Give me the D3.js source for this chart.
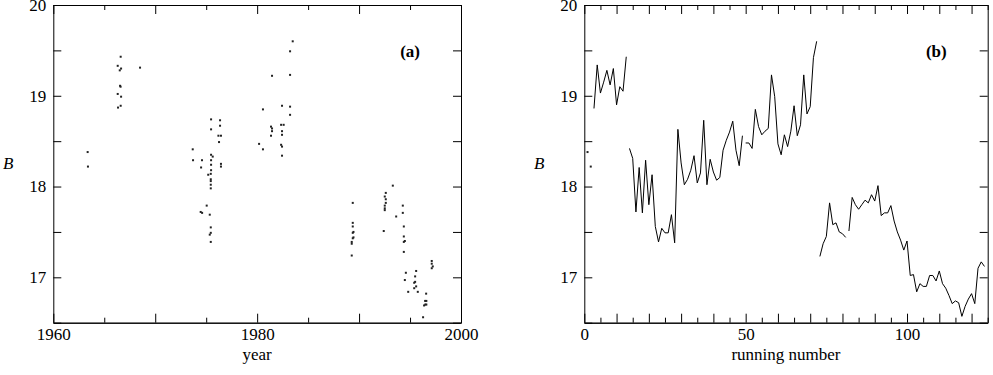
<!DOCTYPE html>
<html>
<head>
<meta charset="utf-8">
<script src="https://cdn.jsdelivr.net/npm/d3@7"></script>
<style>
  body { margin: 0; background: #fff; }
  svg text { font-family: "Liberation Serif", "DejaVu Serif", serif !important; fill: #000; }
</style>
</head>
<body>
<section></section>
<script>

// data: panel (a), B against year

const yearA = [
    1963.37, 1963.40,
    1966.61, 1966.32, 1966.65, 1966.52, 1968.51, 1966.55, 1966.60, 1966.32, 1966.65, 1966.61, 1966.35,
    1973.68, 1973.71, 1974.59, 1974.50, 1974.46, 1974.60, 1975.05, 1975.20, 1975.35, 1975.48, 1975.48,
    1975.48, 1975.64, 1975.48, 1975.48, 1975.48, 1975.45, 1975.45, 1975.45, 1975.45, 1975.45, 1975.45,
    1975.45, 1975.35, 1975.45, 1976.36, 1976.36, 1976.20, 1976.45, 1976.26, 1976.45, 1976.45,
    1980.19, 1980.57, 1980.57, 1981.46, 1981.36, 1981.46, 1981.46, 1981.36, 1982.35, 1982.60, 1982.44,
    1982.44, 1982.44, 1982.35, 1982.44, 1982.44, 1983.23, 1983.23, 1983.23, 1983.23, 1983.49,
    1989.38, 1989.38, 1989.38, 1989.45, 1989.38, 1989.45, 1989.38, 1989.28, 1989.28, 1989.28,
    1993.31, 1992.62, 1992.52, 1992.62, 1992.62, 1992.52, 1992.52, 1992.52, 1992.42, 1993.64,
    1994.29, 1994.29, 1994.39, 1994.39, 1994.49, 1994.39, 1994.39, 1994.59, 1994.49, 1994.82,
    1995.60, 1995.50, 1995.50, 1995.41, 1995.60, 1995.41, 1995.76,
    1996.58, 1996.48, 1996.60, 1996.38, 1996.50, 1996.60, 1996.28,
    1997.13, 1997.13, 1997.23, 1997.13
];

const bA = [
    18.38, 18.22,
    19.43, 19.33, 19.30, 19.28, 19.31, 19.11, 19.10, 19.02, 18.99, 18.89, 18.87,
    18.41, 18.29, 18.29, 18.21, 17.72, 17.71, 17.79, 18.13, 17.69, 18.74, 18.63,
    18.35, 18.33, 18.29, 18.24, 18.18, 18.14, 18.08, 18.06, 18.02, 17.98, 17.55,
    17.49, 17.47, 17.39, 18.73, 18.67, 18.56, 18.56, 18.49, 18.25, 18.22,
    18.47, 18.85, 18.41, 19.22, 18.66, 18.64, 18.61, 18.56, 18.68, 18.68, 18.61,
    18.57, 18.89, 18.46, 18.44, 18.34, 18.88, 18.79, 19.23, 19.49, 19.60,
    17.82, 17.60, 17.56, 17.50, 17.49, 17.44, 17.43, 17.39, 17.37, 17.24,
    18.01, 17.93, 17.89, 17.86, 17.82, 17.79, 17.76, 17.74, 17.51, 17.67,
    17.79, 17.71, 17.56, 17.45, 17.40, 17.39, 17.28, 17.05, 16.97, 16.84,
    17.07, 17.01, 16.95, 16.94, 16.90, 16.88, 16.84,
    16.82, 16.74, 16.74, 16.69, 16.70, 16.70, 16.56,
    17.18, 17.15, 17.12, 17.10
];

// data: panel (b), B against running number 1..124

const runB = [
    18.38, 18.22,
    18.86, 19.34, 19.03, 19.15, 19.28, 19.12, 19.30, 18.90, 19.10, 19.05, 19.43,
    18.42, 18.31, 17.72, 18.21, 17.71, 18.29, 17.80, 18.13, 17.56, 17.39, 17.54, 17.49,
    17.49, 17.69, 17.38, 18.63, 18.26, 18.02, 18.08, 18.18, 18.34, 18.04, 18.15, 18.73,
    18.02, 18.30, 18.16, 18.07, 18.10, 18.40, 18.51, 18.60, 18.72, 18.40, 18.23, 18.56,
    18.48, 18.48, 18.42, 18.85, 18.66, 18.57, 18.61, 18.64, 19.23, 18.99, 18.47, 18.35,
    18.57, 18.44, 18.61, 18.89, 18.56, 18.68, 19.23, 18.80, 18.88, 19.42, 19.60,
    17.23, 17.37, 17.45, 17.82, 17.58, 17.60, 17.50, 17.48, 17.44,
    17.51, 17.88, 17.80, 17.75, 17.80, 17.85, 17.82, 17.91, 17.84, 18.01, 17.68, 17.71,
    17.71, 17.79, 17.62, 17.50, 17.41, 17.30, 17.40, 17.02, 17.03, 16.84, 16.93, 16.90,
    16.90, 17.02, 17.02, 16.96, 17.07, 16.93, 16.88, 16.80, 16.71, 16.74, 16.72, 16.57,
    16.68, 16.76, 16.82, 16.71, 17.10, 17.17, 17.12
];

// running numbers where a new piece of the line begins
const segStarts = [1, 2, 3, 14, 50, 73, 82];

const yTicks = [16.5, 17, 17.5, 18, 18.5, 19, 19.5, 20];
const yLabels = [17, 18, 19, 20];
const yearMajor = [1960, 1970, 1980, 1990, 2000];
const yearMinor = [1965, 1975, 1985, 1995];
const yearLabels = [1960, 1980, 2000];
const runMajor = d3.range(0, 126, 10);
const runMinor = d3.range(5, 126, 10);
const runLabels = [0, 50, 100];


const w = 993;
const h = 375;
const yTop = 5;
const yBottom = 322.7;
const fs = 17;
const serif = '"Liberation Serif", "DejaVu Serif", serif';

const svg = d3.select('section').append('svg').attr('width', w).attr('height', h);

const yScale = d3.scaleLinear().domain([16.5, 20]).range([yBottom, yTop]);


function panel(xScale, major, minor, labels, title, xTitle) {

    const left = xScale.range()[0];
    const right = xScale.range()[1];
    const g = svg.append('g');

    // bottom and top

    g.append('g').attr('transform', `translate(0,${yBottom})`)
        .call(d3.axisBottom(xScale).tickValues(major).tickSize(-9).tickSizeOuter(0).tickPadding(5)
            .tickFormat(d => labels.includes(d) ? d : ''));
    g.append('g').attr('transform', `translate(0,${yBottom})`)
        .call(d3.axisBottom(xScale).tickValues(minor).tickSize(-5).tickSizeOuter(0).tickFormat(''));
    g.append('g').attr('transform', `translate(0,${yTop})`)
        .call(d3.axisTop(xScale).tickValues(major).tickSize(-9).tickSizeOuter(0).tickFormat(''));
    g.append('g').attr('transform', `translate(0,${yTop})`)
        .call(d3.axisTop(xScale).tickValues(minor).tickSize(-5).tickSizeOuter(0).tickFormat(''));

    // left and right

    g.append('g').attr('transform', `translate(${left},0)`)
        .call(d3.axisLeft(yScale).tickValues(yTicks).tickSize(-8).tickSizeOuter(0).tickPadding(7)
            .tickFormat(d => yLabels.includes(d) ? d : ''));
    g.append('g').attr('transform', `translate(${right},0)`)
        .call(d3.axisRight(yScale).tickValues(yTicks).tickSize(-8).tickSizeOuter(0).tickFormat(''));

    g.selectAll('g').attr('font-family', serif).attr('font-size', fs);
    g.selectAll('.domain, .tick line').attr('stroke', '#000').attr('stroke-width', 1);
    g.selectAll('.tick text').style('font-family', serif).style('font-size', fs + 'px');

    g.append('text').attr('x', right - 41).attr('y', 57).attr('text-anchor', 'end')
        .style('font-size', fs + 'px').attr('font-weight', 'bold').text(title);

    g.append('text').attr('x', (left + right) / 2).attr('y', 360).attr('text-anchor', 'middle')
        .style('font-size', fs + 'px').text(xTitle);

    g.append('text').attr('x', left - 45).attr('y', 169).attr('text-anchor', 'middle')
        .style('font-size', fs + 'px').attr('font-style', 'italic').text('B');

    return g;
}


// (a) scatter

const xYear = d3.scaleLinear().domain([1960, 2000]).range([53.3, 461]);

const ga = panel(xYear, yearMajor, yearMinor, yearLabels, '(a)', 'year');

ga.append('g').selectAll('rect').data(yearA).enter().append('rect')
    .attr('x', (d, i) => xYear(d) - 1)
    .attr('y', (d, i) => yScale(bA[i]) - 1)
    .attr('width', 2)
    .attr('height', 2)
    .attr('fill', '#222');


// (b) line against running number

const xRun = d3.scaleLinear().domain([0, 125]).range([584.3, 987.7]);

const gb = panel(xRun, runMajor, runMinor, runLabels, '(b)', 'running number');

const pieces = segStarts.map((s, k) => {
    const end = k + 1 < segStarts.length ? segStarts[k + 1] - 1 : runB.length;
    return d3.range(s, end + 1).map(n => [n, runB[n - 1]]);
});

const line = d3.line().x(d => xRun(d[0])).y(d => yScale(d[1]));

gb.append('g').selectAll('path').data(pieces.filter(p => p.length > 1)).enter().append('path')
    .attr('d', line)
    .attr('fill', 'none')
    .attr('stroke', '#000')
    .attr('stroke-width', 1);

gb.append('g').selectAll('rect').data(pieces.filter(p => p.length == 1)).enter().append('rect')
    .attr('x', d => xRun(d[0][0]) - 1)
    .attr('y', d => yScale(d[0][1]) - 1)
    .attr('width', 2)
    .attr('height', 2)
    .attr('fill', '#222');

</script>
</body>
</html>
